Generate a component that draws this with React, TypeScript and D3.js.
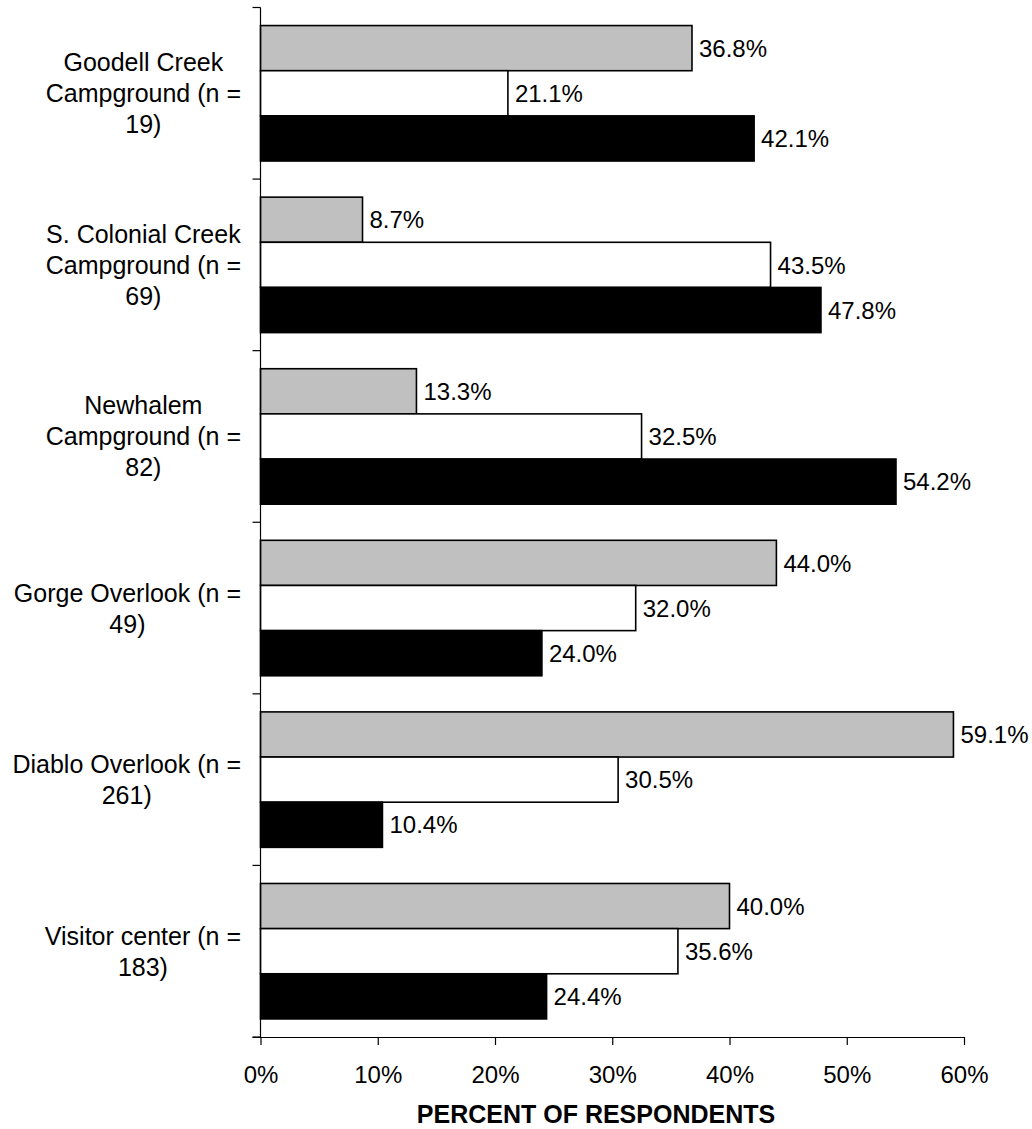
import React, { useEffect, useRef } from "react";
import * as d3 from "d3";

// Site labels (line breaks as in the original chart)
const categories = [
  "Goodell Creek\nCampground (n =\n19)",
  "S. Colonial Creek\nCampground (n =\n69)",
  "Newhalem\nCampground (n =\n82)",
  "Gorge Overlook (n =\n49)",
  "Diablo Overlook (n =\n261)",
  "Visitor center (n =\n183)",
];

const seriesNames = ["grey", "white", "black"];
const greyValues = [36.8, 8.7, 13.3, 44.0, 59.1, 40.0];
const whiteValues = [21.1, 43.5, 32.5, 32.0, 30.5, 35.6];
const blackValues = [42.1, 47.8, 54.2, 24.0, 10.4, 24.4];
const seriesValues = [greyValues, whiteValues, blackValues];
const seriesFill = ["#C0C0C0", "#FFFFFF", "#000000"];

const xTicks = [0, 10, 20, 30, 40, 50, 60];
const xTitle = "PERCENT OF RESPONDENTS";

const FONT = "Arial, 'Liberation Sans', Helvetica, sans-serif";

export default function App() {
  const svgRef = useRef<SVGSVGElement>(null);

  useEffect(() => {
    if (!svgRef.current) return;
    const svg = d3.select(svgRef.current);
    svg.selectAll("*").remove();

    const width = 1032;
    const height = 1129;
    const margin = { top: 7.5, left: 260.5, right: 68, bottom: 92 };
    const plotBottom = height - margin.bottom;
    const plotRight = width - margin.right;

    const x = d3.scaleLinear().domain([0, 60]).range([margin.left, plotRight]);
    const y = d3
      .scaleBand<number>()
      .domain(d3.range(categories.length))
      .range([margin.top, plotBottom])
      .padding(0);
    const ySub = d3
      .scaleBand<number>()
      .domain(d3.range(seriesNames.length))
      .range([0, y.bandwidth()])
      .paddingInner(0)
      .paddingOuter(0.4);

    svg.append("rect").attr("width", width).attr("height", height).attr("fill", "#fff");

    // Bars
    const groups = svg
      .selectAll("g.cat")
      .data(categories)
      .join("g")
      .attr("class", "cat")
      .attr("transform", (_, i) => `translate(0,${y(i)})`);

    seriesValues.forEach((vals, s) => {
      groups
        .append("rect")
        .attr("x", x(0))
        .attr("y", ySub(s)!)
        .attr("width", (_, i) => x(vals[i]) - x(0))
        .attr("height", ySub.bandwidth())
        .attr("fill", seriesFill[s])
        .attr("stroke", "#000")
        .attr("stroke-width", 1.6);

      groups
        .append("text")
        .attr("x", (_, i) => x(vals[i]) + 7)
        .attr("y", ySub(s)! + ySub.bandwidth() / 2)
        .attr("dy", "0.36em")
        .attr("font-family", FONT)
        .attr("font-size", 24)
        .attr("fill", "#000")
        .text((_, i) => `${vals[i].toFixed(1)}%`);
    });

    // Y axis line and boundary ticks
    svg
      .append("line")
      .attr("x1", x(0))
      .attr("x2", x(0))
      .attr("y1", margin.top)
      .attr("y2", plotBottom)
      .attr("stroke", "#000")
      .attr("stroke-width", 1.2);
    const boundaries = d3.range(categories.length + 1).map((i) =>
      i < categories.length ? y(i)! : plotBottom
    );
    svg
      .selectAll("line.ytick")
      .data(boundaries)
      .join("line")
      .attr("class", "ytick")
      .attr("x1", x(0) - 8)
      .attr("x2", x(0))
      .attr("y1", (d) => d)
      .attr("y2", (d) => d)
      .attr("stroke", "#000")
      .attr("stroke-width", 1.2);

    // Category labels: block right-aligned, lines centred within block
    const labelRight = 241;
    const lineGap = 31;
    categories.forEach((cat, i) => {
      const lines = cat.split("\n");
      const cy = y(i)! + y.bandwidth() / 2;
      const g = svg.append("g");
      const texts = lines.map((ln, k) =>
        g
          .append("text")
          .attr("y", cy + (k - (lines.length - 1) / 2) * lineGap)
          .attr("dy", "0.36em")
          .attr("text-anchor", "middle")
          .attr("font-family", FONT)
          .attr("font-size", 25)
          .attr("fill", "#000")
          .text(ln)
      );
      const maxW = d3.max(texts, (t) => (t.node() as SVGTextElement).getComputedTextLength()) || 0;
      texts.forEach((t) => t.attr("x", labelRight - maxW / 2));
    });

    // X axis
    const xAxis = svg
      .append("g")
      .attr("transform", `translate(0,${plotBottom})`)
      .call(
        d3
          .axisBottom(x)
          .tickValues(xTicks)
          .tickSize(8)
          .tickSizeOuter(0)
          .tickPadding(21)
          .tickFormat((d) => `${d}%`)
      );
    xAxis.select(".domain").attr("stroke", "#000").attr("stroke-width", 1.2).attr("d", `M${x(0) - 8},0.5H${plotRight}`);
    xAxis.selectAll(".tick line").attr("stroke", "#000").attr("stroke-width", 1.2);
    xAxis
      .selectAll(".tick text")
      .attr("font-family", FONT)
      .attr("font-size", 24)
      .attr("fill", "#000");

    svg
      .append("text")
      .attr("x", 596)
      .attr("y", 1123)
      .attr("text-anchor", "middle")
      .attr("font-family", FONT)
      .attr("font-size", 25)
      .attr("font-weight", "bold")
      .attr("fill", "#000")
      .text(xTitle);
  }, []);

  return (
    <svg
      ref={svgRef}
      width={1032}
      height={1129}
      style={{ display: "block", position: "absolute", left: 0, top: 0 }}
    />
  );
}
